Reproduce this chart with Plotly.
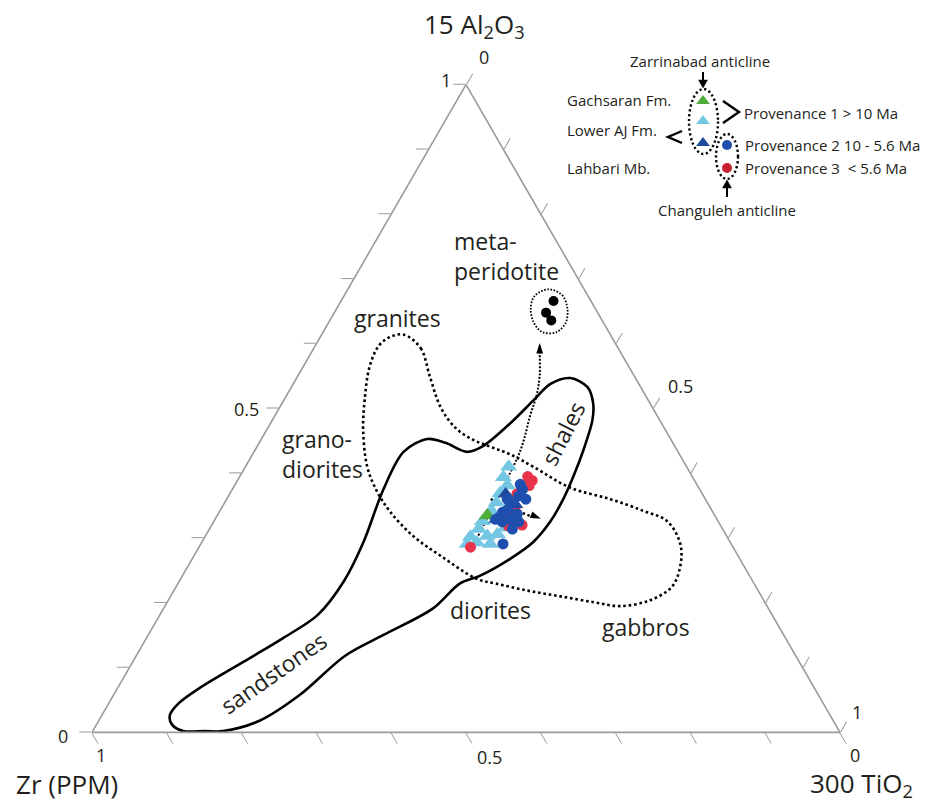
import plotly.graph_objects as go

# Ternary compositions as fractions of the plotted sum:
#   al = 15*Al2O3 (top corner), ti = 300*TiO2 (right corner), Zr (ppm) is the remainder.

# Lower AJ Fm. (light blue triangles)
lower_aj_al = [0.410, 0.394, 0.381, 0.369, 0.355, 0.342, 0.326, 0.314, 0.302, 0.293, 0.303, 0.306, 0.316, 0.291, 0.291]
lower_aj_ti = [0.352, 0.353, 0.365, 0.361, 0.363, 0.363, 0.359, 0.360, 0.355, 0.368, 0.377, 0.389, 0.395, 0.387, 0.356]

# Gachsaran Fm. (green triangle)
gachsaran_al = [0.335]
gachsaran_ti = [0.361]

# Lahbari Mb. (dark blue triangles)
lahbari_al = [0.329, 0.352, 0.368]
lahbari_ti = [0.376, 0.390, 0.369]

# Provenance 2, 10 - 5.6 Ma (blue circles)
prov2_al = [0.375, 0.365, 0.355, 0.360, 0.340, 0.345, 0.337, 0.325, 0.325, 0.329, 0.291, 0.314, 0.383, 0.329, 0.360]
prov2_ti = [0.388, 0.388, 0.386, 0.400, 0.379, 0.384, 0.400, 0.408, 0.386, 0.375, 0.404, 0.405, 0.381, 0.395, 0.375]

# Provenance 3, < 5.6 Ma (red circles)
prov3_al = [0.395, 0.389, 0.381, 0.381, 0.286, 0.334, 0.320, 0.319, 0.368, 0.348]
prov3_ti = [0.385, 0.394, 0.394, 0.383, 0.363, 0.392, 0.415, 0.397, 0.384, 0.392]

# Meta-peridotite reference samples (black dots)
peridotite_al = [0.666, 0.648, 0.636]
peridotite_ti = [0.284, 0.283, 0.296]

# Sandstone / shale field (solid outline)
sed_field_al = [0.002, 0.002, 0.012, 0.026, 0.044, 0.069, 0.115, 0.146, 0.181, 0.233, 0.294, 0.375, 0.433,
                0.453, 0.447, 0.433, 0.441, 0.478, 0.513, 0.538, 0.547, 0.533, 0.508, 0.482, 0.436, 0.395,
                0.360, 0.325, 0.294, 0.268, 0.242, 0.230, 0.191, 0.150, 0.118, 0.058, 0.018, 0.002, 0.002]
sed_field_ti = [0.150, 0.121, 0.101, 0.091, 0.093, 0.110, 0.154, 0.183, 0.211, 0.220, 0.216, 0.202, 0.200,
                0.222, 0.249, 0.285, 0.301, 0.321, 0.334, 0.344, 0.366, 0.396, 0.416, 0.428, 0.439, 0.446,
                0.450, 0.450, 0.443, 0.425, 0.398, 0.377, 0.360, 0.314, 0.279, 0.249, 0.215, 0.174, 0.150]

# Igneous field: granites - granodiorites - diorites - gabbros (dotted outline)
ign_field_al = [0.614, 0.593, 0.548, 0.501, 0.470, 0.452, 0.441, 0.429, 0.410, 0.378, 0.360, 0.342, 0.326,
                0.291, 0.257, 0.225, 0.204, 0.195, 0.201, 0.210, 0.219, 0.230, 0.237, 0.273, 0.303, 0.340,
                0.371, 0.410, 0.467, 0.513, 0.564, 0.597, 0.611, 0.614]
ign_field_ti = [0.110, 0.143, 0.178, 0.216, 0.251, 0.283, 0.312, 0.345, 0.385, 0.450, 0.513, 0.566, 0.606,
                0.641, 0.658, 0.663, 0.644, 0.609, 0.570, 0.521, 0.472, 0.424, 0.396, 0.329, 0.278, 0.229,
                0.196, 0.163, 0.129, 0.108, 0.089, 0.085, 0.094, 0.110]

# Outline round the meta-peridotite samples
perid_loop_al = [0.684, 0.675, 0.655, 0.633, 0.618, 0.618, 0.633, 0.655, 0.674, 0.684]
perid_loop_ti = [0.268, 0.291, 0.308, 0.317, 0.312, 0.293, 0.274, 0.259, 0.255, 0.268]

# Trend arrows
trend_up_al = [0.279, 0.360, 0.436, 0.490, 0.521, 0.551, 0.587, 0.597]
trend_up_ti = [0.366, 0.361, 0.355, 0.341, 0.334, 0.323, 0.305, 0.300]
trend_right_al = [0.360, 0.346, 0.334, 0.331]
trend_right_ti = [0.353, 0.386, 0.419, 0.429]

# Axis ticks: marks every 0.1, labels at 0, 0.5 and 1
tick_vals = [0, 0.1, 0.2, 0.3, 0.4, 0.5, 0.6, 0.7, 0.8, 0.9, 1.0]
tick_labels = ["0", "0.5", "1"]


def zr(al, ti):
    return [1 - a - t for a, t in zip(al, ti)]


FONT = "Open Sans, sans-serif"
INK = "#231f20"
GREY = "#9a9a9a"

W, H = 930, 803
ML, MR, MT, MB = 92, 90, 84, 70
PW, PH = W - ML - MR, H - MT - MB


def xp(px):
    return (px - ML) / PW


def yp(py):
    return (H - MB - py) / PH


fig = go.Figure()


def tern_line(al, ti, width, dash, shape="spline", smoothing=1.0):
    fig.add_trace(go.Scatterternary(
        a=al, c=ti, b=zr(al, ti), mode="lines",
        line=dict(color="black", width=width, dash=dash, shape=shape, smoothing=smoothing),
        hoverinfo="skip", cliponaxis=False))


def tern_points(al, ti, symbol, color, size, name):
    fig.add_trace(go.Scatterternary(
        a=al, c=ti, b=zr(al, ti), mode="markers", name=name,
        marker=dict(symbol=symbol, color=color, size=size, line=dict(width=0)),
        cliponaxis=False))


tern_line(ign_field_al, ign_field_ti, 2.6, "2.6px,2.8px")
tern_line(sed_field_al, sed_field_ti, 2.6, "solid", smoothing=0.9)
tern_line(perid_loop_al, perid_loop_ti, 1.8, "1.6px,1.6px")
tern_line(trend_up_al, trend_up_ti, 2.0, "2px,1.6px")
tern_line(trend_right_al, trend_right_ti, 2.4, "2.4px,2.6px", shape="linear")

tern_points(lower_aj_al, lower_aj_ti, "triangle-up", "#74c7e2", 15, "Lower AJ Fm.")
tern_points(gachsaran_al, gachsaran_ti, "triangle-up", "#4fae3b", 15, "Gachsaran Fm.")
tern_points(prov3_al, prov3_ti, "circle", "#e8344a", 11, "Provenance 3")
tern_points(lahbari_al, lahbari_ti, "triangle-up", "#1e4a9c", 14, "Lahbari Mb.")
tern_points(prov2_al, prov2_ti, "circle", "#1f4fae", 11, "Provenance 2")
tern_points(peridotite_al, peridotite_ti, "circle", "black", 10, "meta-peridotite")

# arrow heads at the ends of the trend lines
head_al = [trend_up_al[-1] + 0.004, trend_right_al[-1] - 0.001]
head_ti = [trend_up_ti[-1] - 0.002, trend_right_ti[-1] + 0.006]
fig.add_trace(go.Scatterternary(
    a=head_al, c=head_ti, b=zr(head_al, head_ti), mode="markers",
    marker=dict(symbol="arrow", size=11, color="black", angle=[0, 112], line=dict(width=0)),
    hoverinfo="skip", cliponaxis=False))


def axis_style():
    return dict(
        title=dict(text=""), showgrid=False, min=0,
        tickmode="array", tickvals=tick_vals, showticklabels=False,
        ticks="outside", ticklen=12, tickwidth=1.4, tickcolor=GREY,
        linecolor=GREY, linewidth=1.6,
    )


# ---- key (markers on a pixel-scaled overlay) ----
fig.add_trace(go.Scatter(
    x=[703, 703, 703], y=[101, 121, 143], mode="markers",
    marker=dict(symbol="triangle-up", size=12, color=["#4fae3b", "#74c7e2", "#1e4a9c"]),
    hoverinfo="skip", cliponaxis=False, xaxis="x", yaxis="y"))
fig.add_trace(go.Scatter(
    x=[727, 727], y=[145, 168], mode="markers",
    marker=dict(symbol="circle", size=10, color=["#1f4fae", "#c8202e"]),
    hoverinfo="skip", cliponaxis=False, xaxis="x", yaxis="y"))


def paper_path(points, closed=False):
    d = "M" + " L".join(f"{xp(x):.5f},{yp(y):.5f}" for x, y in points)
    return d + (" Z" if closed else "")


shapes = [
    dict(type="circle", xref="x", yref="y", x0=689, x1=718, y0=89, y1=154,
         line=dict(color="black", width=2.4, dash="2.2px,2.6px")),
    dict(type="circle", xref="x", yref="y", x0=716, x1=738, y0=134, y1=179,
         line=dict(color="black", width=2.4, dash="2.2px,2.6px")),
    dict(type="path", xref="paper", yref="paper",
         path=paper_path([(723, 101), (739, 112), (723, 123)]),
         line=dict(color="black", width=2.4)),
    dict(type="path", xref="paper", yref="paper",
         path=paper_path([(682, 131), (668, 137), (682, 143)]),
         line=dict(color="black", width=2.4)),
    # key arrows: shafts and heads
    dict(type="line", xref="paper", yref="paper", x0=xp(703), x1=xp(703), y0=yp(72), y1=yp(81),
         line=dict(color="black", width=2)),
    dict(type="path", xref="paper", yref="paper",
         path=paper_path([(698.5, 80), (707.5, 80), (703, 88)], closed=True),
         fillcolor="black", line=dict(color="black", width=0.5)),
    dict(type="line", xref="paper", yref="paper", x0=xp(727), x1=xp(727), y0=yp(197), y1=yp(187),
         line=dict(color="black", width=2)),
    dict(type="path", xref="paper", yref="paper",
         path=paper_path([(722.5, 188), (731.5, 188), (727, 180)], closed=True),
         fillcolor="black", line=dict(color="black", width=0.5)),
]

annotations = []


def label(text, x, y, size, xanchor="center", angle=0, align="center"):
    annotations.append(dict(
        text=text, x=xp(x), y=yp(y), xref="paper", yref="paper", showarrow=False,
        xanchor=xanchor, yanchor="middle", textangle=angle, align=align,
        font=dict(family=FONT, size=size, color=INK)))


# axis titles
label("15 Al<sub>2</sub>O<sub>3</sub>", 474, 25, 26)
label("Zr (PPM)", 67, 784, 26)
label("300 TiO<sub>2</sub>", 862, 784, 26)

# tick labels: Al2O3 (left edge), Zr (bottom edge), TiO2 (right edge)
label(tick_labels[2], 446, 80, 18)
label(tick_labels[1], 246, 409, 18)
label(tick_labels[0], 63, 736, 18)
label(tick_labels[2], 101, 755, 18)
label(tick_labels[1], 489, 757, 18)
label(tick_labels[0], 855, 755, 18)
label(tick_labels[0], 484, 57, 18)
label(tick_labels[1], 680, 386, 18)
label(tick_labels[2], 857, 712, 18)

# field names
label("meta-<br>peridotite", 452, 256, 23, xanchor="left", align="left")
label("granites", 397, 318, 23)
label("grano-<br>diorites", 280, 454, 23, xanchor="left", align="left")
label("diorites", 490, 610, 23)
label("gabbros", 646, 627, 23)
label("shales", 563, 433, 23, angle=-63)
label("sandstones", 273, 673, 23, angle=-35)

# key text
label("Zarrinabad anticline", 700, 61, 15)
label("Gachsaran Fm.", 565, 100, 15, xanchor="left")
label("Lower AJ Fm.", 565, 130, 15, xanchor="left")
label("Lahbari Mb.", 565, 168, 15, xanchor="left")
label("Provenance 1 &gt; 10 Ma", 742, 113, 15, xanchor="left")
label("Provenance 2 10 - 5.6 Ma", 743, 145, 15, xanchor="left")
label("Provenance 3  &lt; 5.6 Ma", 743, 168, 15, xanchor="left")
label("Changuleh anticline", 727, 210, 15)

fig.update_layout(
    width=W, height=H,
    margin=dict(l=ML, r=MR, t=MT, b=MB, pad=0),
    paper_bgcolor="white", plot_bgcolor="rgba(0,0,0,0)",
    showlegend=False,
    font=dict(family=FONT, color=INK),
    ternary=dict(
        sum=1, bgcolor="rgba(0,0,0,0)",
        domain=dict(x=[0, 1], y=[0, 1]),
        aaxis=axis_style(), baxis=axis_style(), caxis=axis_style(),
    ),
    xaxis=dict(range=[ML, W - MR], visible=False, fixedrange=True),
    yaxis=dict(range=[H - MB, MT], visible=False, fixedrange=True),
    shapes=shapes,
    annotations=annotations,
)

fig.write_html("out.html")
